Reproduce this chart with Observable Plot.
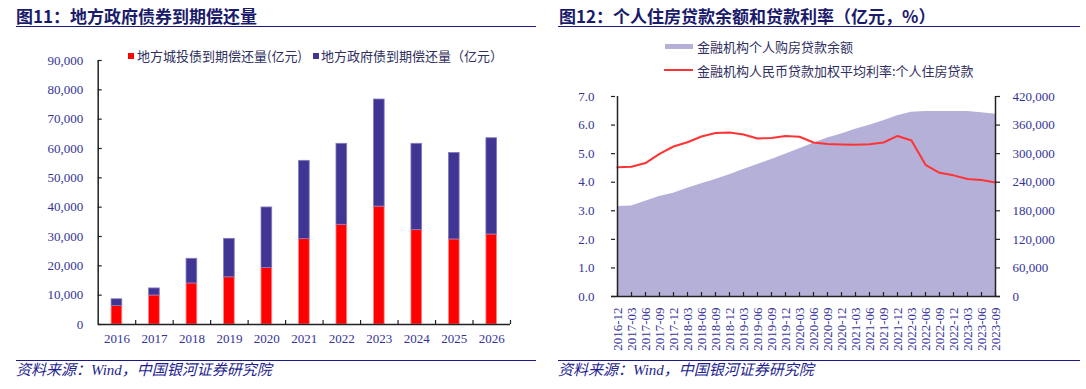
<!DOCTYPE html>
<html><head><meta charset="utf-8">
<script src="https://cdn.jsdelivr.net/npm/d3@7"></script>
<script src="https://cdn.jsdelivr.net/npm/@observablehq/plot@0.6"></script>
<style>
body{margin:0;background:#fff;width:1086px;height:389px;position:relative;overflow:hidden}
.abs{position:absolute}
.title{font-family:"Noto Sans CJK SC";font-weight:700;font-size:17px;color:#1b1b6b;white-space:nowrap;line-height:17px}
.rule{height:0;border-top:1.5px solid #1a1a8c}
.src{font-family:"Liberation Serif","Noto Sans CJK SC";font-style:italic;font-size:15px;color:#1f1f8f;white-space:nowrap;line-height:15px}
.leg{font-family:"Noto Sans CJK SC";font-size:13px;color:#303060;white-space:nowrap;line-height:13px}
svg{position:absolute;overflow:visible}
</style></head><body>
<div class="abs title" style="left:16px;top:7px">图11：地方政府债券到期偿还量</div>
<div class="abs rule" style="left:16px;top:26px;width:520px"></div>
<div class="abs" style="left:128px;top:53px;width:6px;height:6px;background:#ff0000"></div>
<div class="abs leg" id="l1" style="left:137px;top:49px">地方城投债到期偿还量(亿元)</div>
<div class="abs" style="left:313px;top:53px;width:6px;height:6px;background:#413593"></div>
<div class="abs leg" id="l2" style="left:321px;top:49px">地方政府债到期偿还量（亿元）</div>
<div id="c1"></div>
<div class="abs rule" style="left:16px;top:360px;width:520px"></div>
<div class="abs src" style="left:16px;top:363px">资料来源：Wind，中国银河证券研究院</div>

<div class="abs title" style="left:559px;top:7px">图12：个人住房贷款余额和贷款利率（亿元，%）</div>
<div class="abs rule" style="left:558px;top:26px;width:522px"></div>
<div class="abs" style="left:665px;top:44px;width:28px;height:5px;background:#b4b0d8"></div>
<div class="abs leg" style="left:697px;top:40px">金融机构个人购房贷款余额</div>
<div class="abs" style="left:664px;top:69px;width:29px;height:2px;background:#ff3333"></div>
<div class="abs leg" style="left:697px;top:64px">金融机构人民币贷款加权平均利率:个人住房贷款</div>
<div id="c2"></div>
<div class="abs rule" style="left:558px;top:360px;width:522px"></div>
<div class="abs src" style="left:558px;top:363px">资料来源：Wind，中国银河证券研究院</div>

<script>
// ---- Chart 11 data ----
const years = ["2016","2017","2018","2019","2020","2021","2022","2023","2024","2025","2026"];
const chengtou = [6300, 9900, 14000, 16100, 19300, 29100, 34000, 40200, 32200, 29000, 30700];
const govBond  = [2300, 2400, 8400, 13100, 20600, 26700, 27600, 36500, 29400, 29500, 32800];
const leftTicks = [0,10000,20000,30000,40000,50000,60000,70000,80000,90000];

// ---- Chart 12 data ----
const dates = ["2016-12","2017-03","2017-06","2017-09","2017-12","2018-03","2018-06","2018-09","2018-12",
  "2019-03","2019-06","2019-09","2019-12","2020-03","2020-06","2020-09","2020-12",
  "2021-03","2021-06","2021-09","2021-12","2022-03","2022-06","2022-09","2022-12",
  "2023-03","2023-06","2023-09"];
const balance = [189000,190000,200200,210000,217000,227500,236600,245700,255500,266700,277200,287700,298900,
  310100,322000,333000,341000,351400,359800,368900,379400,387100,388500,388500,388600,388500,385700,382900];
const rate = [4.52,4.54,4.67,4.99,5.25,5.40,5.60,5.72,5.74,5.67,5.53,5.55,5.62,5.59,5.39,5.34,5.32,5.31,
  5.33,5.39,5.62,5.46,4.61,4.33,4.24,4.11,4.08,3.99];
const rateTicks = [0,1,2,3,4,5,6,7];
const balanceTicks = [0,60000,120000,180000,240000,300000,360000,420000];

const navy = "#333399", axisCol = "#222";

// ---- Chart 11 ----
{
  const W=545,H=310,mL=97.7,mR=35,mT=20,mB=26;
  const fw=W-mL-mR, fh=H-mT-mB;
  const rows = [];
  years.forEach((y,i)=>{
    rows.push({i, type:"ct", y1:0, y2:chengtou[i]});
    rows.push({i, type:"gov", y1:chengtou[i], y2:chengtou[i]+govBond[i]});
  });
  const hw = 0.143;
  const p = Plot.plot({
    width:W, height:H, marginLeft:mL, marginRight:mR, marginTop:mT, marginBottom:mB,
    x:{type:"linear", domain:[-0.5, years.length-0.5]},
    y:{domain:[0,90000]},
    color:{domain:["ct","gov"], range:["#ff0000","#413593"]},
    style:{fontFamily:"Liberation Serif", fontSize:"13px", color:navy, background:"transparent", overflow:"visible"},
    marks:[
      Plot.rect(rows, {x1:d=>d.i-hw, x2:d=>d.i+hw, y1:"y1", y2:"y2", fill:"type",
        stroke:d=>d.type==="ct"?"#ff8a8a":"#857dc0", strokeWidth:0.8}),
      Plot.ruleX([-0.5], {stroke:axisCol, strokeWidth:1.5}),
      Plot.ruleY([0], {stroke:axisCol, strokeWidth:1.5}),
      Plot.tickY(leftTicks, {y:d=>d, insetRight:fw-4, stroke:axisCol, strokeWidth:1.2}),
      Plot.tickX(years.map((_,i)=>i+0.5), {x:d=>d, insetTop:fh-4, stroke:axisCol, strokeWidth:1.2}),
      Plot.axisY({ticks:leftTicks, tickFormat:d3.format(","), tickSize:0, tickPadding:15, fill:navy, fontSize:13, label:null}),
      Plot.axisX({ticks:d3.range(years.length), tickFormat:i=>years[i], tickSize:0, tickPadding:9, fill:navy, fontSize:13, label:null})
    ]
  });
  p.style.left="0px"; p.style.top="40px";
  document.getElementById("c1").appendChild(p);
}

// ---- Chart 12 ----
{
  const W=541,H=278,mL=66,mR=86,mT=16,mB=62;
  const fw=W-mL-mR, fh=H-mT-mB;
  const scale2 = 60000; // right axis units per left axis unit
  const rows = dates.map((d,i)=>({date:d, bal:balance[i], rate:rate[i]}));
  const p = Plot.plot({
    width:W, height:H, marginLeft:mL, marginRight:mR, marginTop:mT, marginBottom:mB,
    x:{type:"point", domain:dates, padding:0},
    y:{domain:[0,7]},
    style:{fontFamily:"Liberation Serif", fontSize:"13px", color:navy, background:"transparent", overflow:"visible"},
    marks:[
      Plot.areaY(rows, {x:"date", y:d=>d.bal/scale2, fill:"#b4b0d8"}),
      Plot.lineY(rows, {x:"date", y:"rate", stroke:"#ff3333", strokeWidth:2}),
      Plot.ruleX([dates[0]], {stroke:axisCol, strokeWidth:1.5}),
      Plot.ruleX([dates[dates.length-1]], {stroke:axisCol, strokeWidth:1.5}),
      Plot.ruleY([0], {stroke:axisCol, strokeWidth:1.5}),
      Plot.tickY(rateTicks, {y:d=>d, insetRight:fw-4, stroke:axisCol, strokeWidth:1.2}),
      Plot.tickY(rateTicks, {y:d=>d, insetLeft:fw-4, stroke:axisCol, strokeWidth:1.2}),
      Plot.tickX(dates, {x:d=>d, insetTop:fh-4, stroke:axisCol, strokeWidth:1.2}),
      Plot.axisY({ticks:rateTicks, tickFormat:d3.format(".1f"), tickSize:0, tickPadding:17, fill:navy, fontSize:13, label:null}),
      Plot.axisY({anchor:"right", ticks:rateTicks, tickFormat:(d,i)=>d3.format(",")(balanceTicks[i]), tickSize:0, tickPadding:12, fill:navy, fontSize:13, label:null}),
      Plot.axisX({tickRotate:-90, tickSize:0, tickPadding:11, fill:navy, fontSize:13, label:null})
    ]
  });
  p.style.left="545px"; p.style.top="80px";
  document.getElementById("c2").appendChild(p);
}
</script>
</body></html>
